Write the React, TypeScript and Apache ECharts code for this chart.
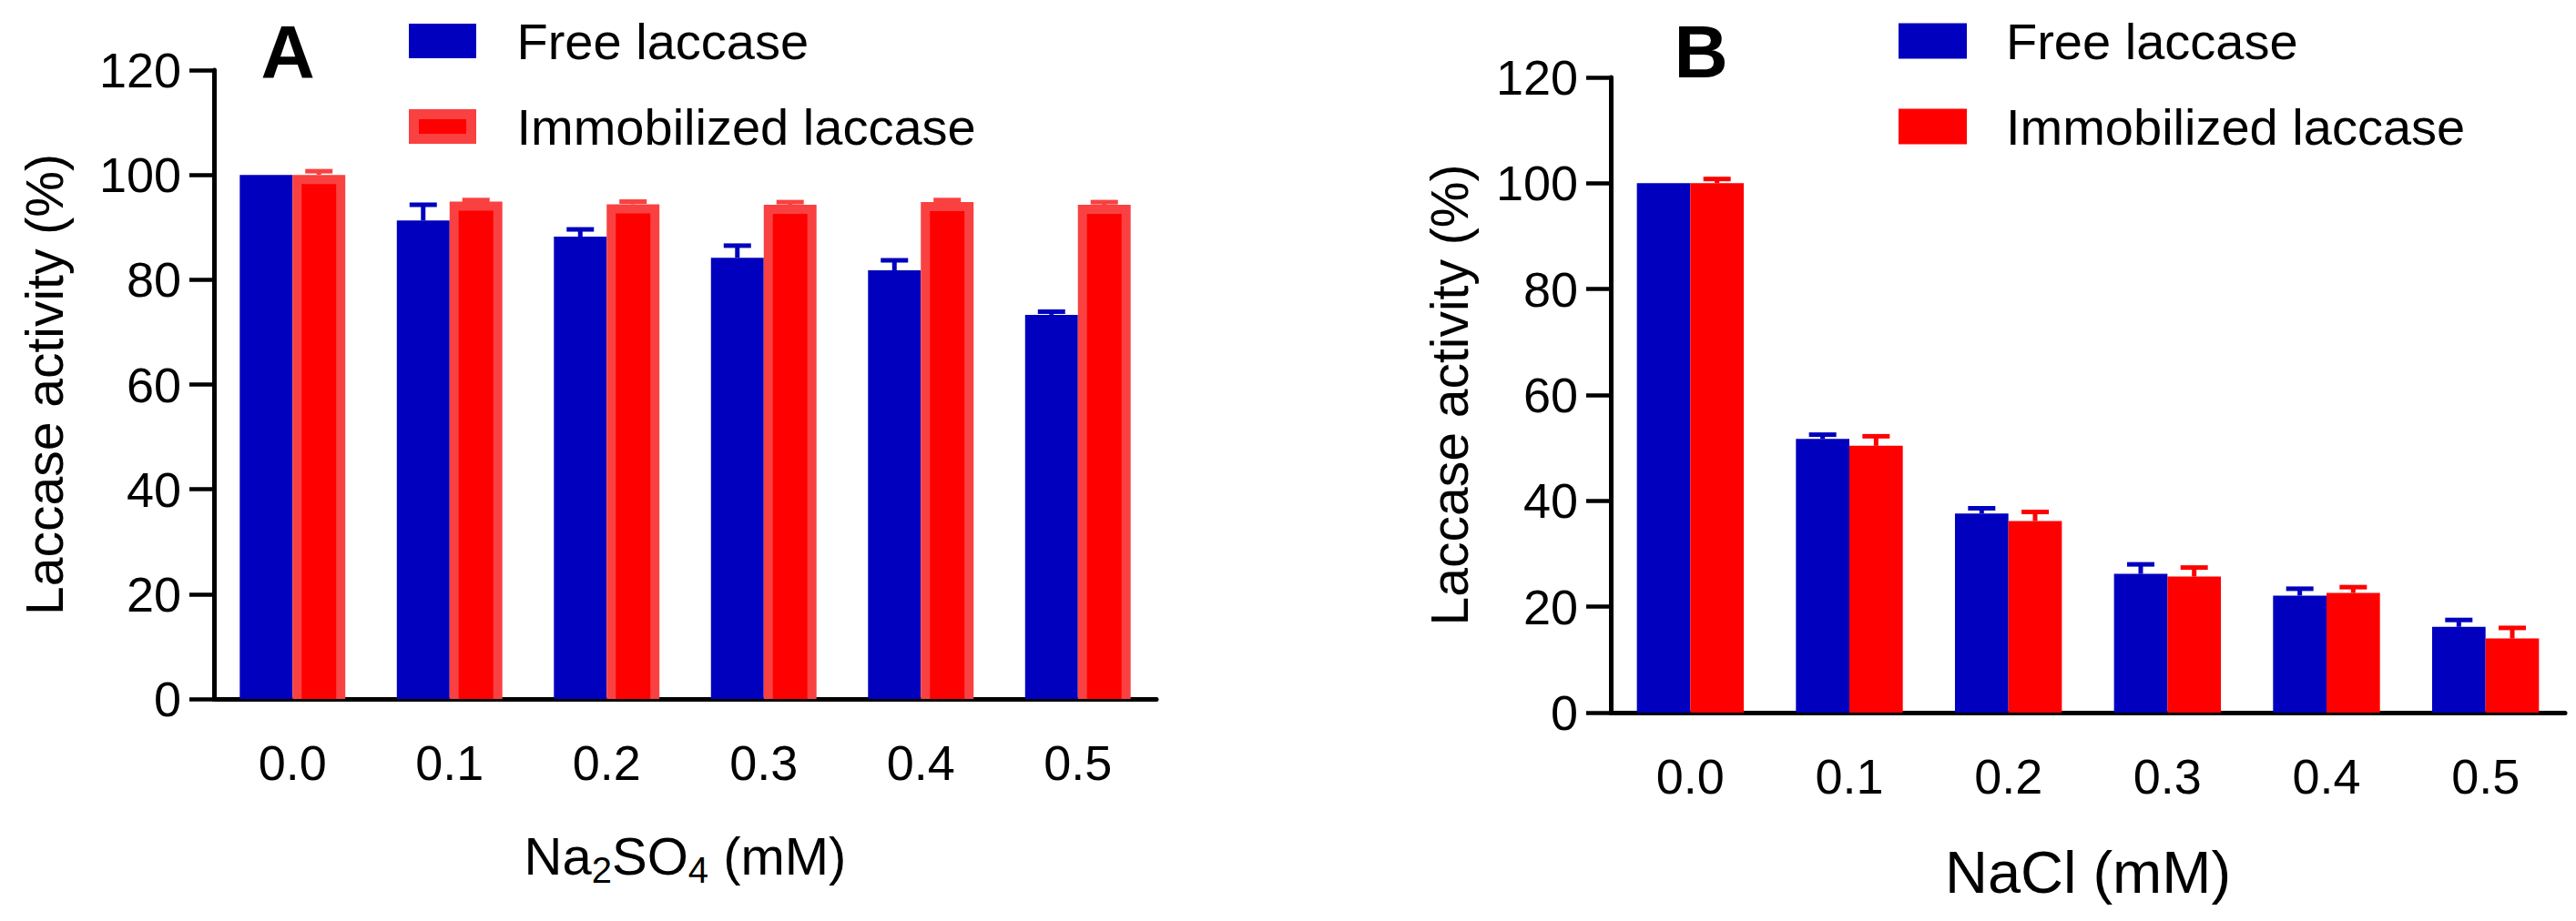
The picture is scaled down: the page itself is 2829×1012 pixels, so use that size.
import React, { useEffect, useRef } from 'react';
import * as echarts from 'echarts';

// ---------- data ----------
const categories = ['0.0', '0.1', '0.2', '0.3', '0.4', '0.5'];
const yTicks = [0, 20, 40, 60, 80, 100, 120];
const legendNames = ['Free laccase', 'Immobilized laccase'];
const panelLetters = ['A', 'B'];
const yTitle = 'Laccase activity (%)';
const xTitleA = '{a|Na}{s|2}{a|SO}{s|4}{a| (mM)}';
const xTitleB = 'NaCl (mM)';

const freeA = [100, 91.3, 88.2, 84.2, 81.8, 73.3];
const freeErrA = [0, 3.0, 1.4, 2.3, 1.9, 0.6];
const immA = [100, 94.9, 94.4, 94.3, 94.8, 94.3];
const immErrA = [0.7, 0.3, 0.5, 0.5, 0.4, 0.5];

const freeB = [100, 51.7, 37.6, 26.2, 22.1, 16.2];
const freeErrB = [0, 0.8, 1.0, 1.8, 1.3, 1.3];
const immB = [100, 50.4, 36.2, 25.7, 22.6, 14.0];
const immErrB = [0.8, 1.8, 1.7, 1.7, 1.1, 2.0];

// ---------- style ----------
const FONT = '"Liberation Sans", Arial, Helvetica, sans-serif';
const BLUE = '#0000BE';
const RED = '#FF0000';
const LIGHT_RED = '#F94141';
const BAR_FRAC = 0.336;
const INSET = 10;

const toTriples = (v: number[], e: number[]) => v.map((val, i) => [i, val, e[i]]);

function errorRender(side: number, color: string, inner: boolean) {
  return (params: any, api: any) => {
    const i = api.value(0);
    const v = api.value(1);
    const e = api.value(2);
    const band = api.size([1, 0])[0];
    const w = band * BAR_FRAC;
    const base = api.coord([i, v]);
    const cx = base[0] + (side * w) / 2;
    const children: any[] = [];
    if (inner) {
      const zero = api.coord([i, 0]);
      const x0 = side > 0 ? base[0] : base[0] - w;
      children.push({
        type: 'rect',
        shape: { x: x0 + INSET, y: base[1] + INSET, width: w - 2 * INSET, height: zero[1] - base[1] - INSET },
        style: { fill: RED },
      });
    }
    if (e > 0) {
      const top = api.coord([i, v + e]);
      children.push({
        type: 'line',
        shape: { x1: cx, y1: base[1], x2: cx, y2: top[1] },
        style: { stroke: color, lineWidth: 5 },
      });
      children.push({
        type: 'line',
        shape: { x1: cx - 15, y1: top[1], x2: cx + 15, y2: top[1] },
        style: { stroke: color, lineWidth: 5 },
      });
    }
    return { type: 'group', children };
  };
}

function xAxis(gridIndex: number, name: string, nameSize: number) {
  return {
    type: 'category',
    gridIndex,
    data: categories,
    boundaryGap: true,
    axisLine: { lineStyle: { color: '#000', width: 5 } },
    axisTick: { alignWithLabel: true, length: 29, lineStyle: { color: '#000', width: 4.5 } },
    axisLabel: { fontSize: 54, fontFamily: FONT, color: '#000', margin: 43 },
    name,
    nameLocation: 'middle',
    nameGap: 143,
    nameTextStyle: {
      fontSize: nameSize,
      fontFamily: FONT,
      color: '#000',
      rich: {
        a: { fontSize: nameSize, fontFamily: FONT, color: '#000', lineHeight: nameSize },
        s: {
          fontSize: 40,
          fontFamily: FONT,
          color: '#000',
          lineHeight: 25,
          verticalAlign: 'top',
          padding: [25, 0, 0, 0],
        },
      },
    },
  };
}

function yAxis(gridIndex: number, nameGap: number) {
  return {
    type: 'value',
    gridIndex,
    min: yTicks[0],
    max: yTicks[yTicks.length - 1],
    interval: yTicks[1] - yTicks[0],
    splitLine: { show: false },
    axisLine: { show: true, lineStyle: { color: '#000', width: 5 } },
    axisTick: { show: true, length: 27, lineStyle: { color: '#000', width: 4.5 } },
    axisLabel: { fontSize: 54, fontFamily: FONT, color: '#000', margin: 36 },
    name: yTitle,
    nameLocation: 'middle',
    nameRotate: 90,
    nameGap,
    nameTextStyle: { fontSize: 57, fontFamily: FONT, color: '#000' },
  };
}

const nameMap: Record<string, string> = {
  'A-free': legendNames[0],
  'A-imm': legendNames[1],
  'B-free': legendNames[0],
  'B-imm': legendNames[1],
};

function letter(text: string, x: number) {
  return {
    type: 'text',
    x,
    y: 56,
    style: {
      text,
      fontSize: 82,
      fontWeight: 'bold',
      fontFamily: FONT,
      fill: '#000',
      align: 'center',
      verticalAlign: 'middle',
      textAlign: 'center',
      textVerticalAlign: 'middle',
    },
  };
}

function buildOption() {
  const bw = BAR_FRAC * 100 + '%';
  return {
    animation: false,
    backgroundColor: '#fff',
    grid: [
      { left: 235, top: 77, width: 1035, height: 691 },
      { left: 1769, top: 85, width: 1048, height: 698 },
    ],
    xAxis: [xAxis(0, xTitleA, 58), xAxis(1, xTitleB, 65)],
    yAxis: [yAxis(0, 158), yAxis(1, 149)],
    legend: [
      {
        orient: 'vertical',
        left: 449,
        top: 17,
        itemWidth: 63,
        itemHeight: 27,
        itemGap: 38,
        padding: 0,
        icon: 'rect',
        selectedMode: false,
        data: [
          { name: 'A-free', itemStyle: { color: BLUE, borderColor: BLUE, borderWidth: 11 } },
          { name: 'A-imm', itemStyle: { color: RED, borderColor: LIGHT_RED, borderWidth: 11 } },
        ],
        formatter: (n: string) => nameMap[n] || n,
        textStyle: { fontSize: 56, fontFamily: FONT, color: '#000', padding: [0, 0, 0, 45] },
      },
      {
        orient: 'vertical',
        left: 2085,
        top: 17,
        itemWidth: 75,
        itemHeight: 39,
        itemGap: 38,
        padding: 0,
        icon: 'rect',
        selectedMode: false,
        data: [
          { name: 'B-free', itemStyle: { color: BLUE, borderWidth: 0 } },
          { name: 'B-imm', itemStyle: { color: RED, borderWidth: 0 } },
        ],
        formatter: (n: string) => nameMap[n] || n,
        textStyle: { fontSize: 56, fontFamily: FONT, color: '#000', padding: [0, 0, 0, 38] },
      },
    ],
    graphic: [letter(panelLetters[0], 316), letter(panelLetters[1], 1868)],
    series: [
      {
        name: 'A-free', type: 'bar', xAxisIndex: 0, yAxisIndex: 0, data: freeA,
        barWidth: bw, barGap: '0%', itemStyle: { color: BLUE },
      },
      {
        name: 'A-imm', type: 'bar', xAxisIndex: 0, yAxisIndex: 0, data: immA,
        barWidth: bw, barGap: '0%', itemStyle: { color: LIGHT_RED },
      },
      {
        name: 'B-free', type: 'bar', xAxisIndex: 1, yAxisIndex: 1, data: freeB,
        barWidth: bw, barGap: '0%', itemStyle: { color: BLUE },
      },
      {
        name: 'B-imm', type: 'bar', xAxisIndex: 1, yAxisIndex: 1, data: immB,
        barWidth: bw, barGap: '0%', itemStyle: { color: RED },
      },
      {
        name: 'A-free-err', type: 'custom', xAxisIndex: 0, yAxisIndex: 0,
        data: toTriples(freeA, freeErrA), encode: { x: 0, y: 1 },
        renderItem: errorRender(-1, BLUE, false), z: 3,
      },
      {
        name: 'A-imm-err', type: 'custom', xAxisIndex: 0, yAxisIndex: 0,
        data: toTriples(immA, immErrA), encode: { x: 0, y: 1 },
        renderItem: errorRender(1, LIGHT_RED, true), z: 3,
      },
      {
        name: 'B-free-err', type: 'custom', xAxisIndex: 1, yAxisIndex: 1,
        data: toTriples(freeB, freeErrB), encode: { x: 0, y: 1 },
        renderItem: errorRender(-1, BLUE, false), z: 3,
      },
      {
        name: 'B-imm-err', type: 'custom', xAxisIndex: 1, yAxisIndex: 1,
        data: toTriples(immB, immErrB), encode: { x: 0, y: 1 },
        renderItem: errorRender(1, RED, false), z: 3,
      },
    ],
  };
}

export default function App() {
  const ref = useRef<HTMLDivElement>(null);
  useEffect(() => {
    if (!ref.current) return;
    const chart = echarts.init(ref.current, undefined, { renderer: 'svg' });
    chart.setOption(buildOption() as any);
    return () => chart.dispose();
  }, []);
  return (
    <div
      ref={ref}
      style={{ position: 'fixed', left: 0, top: 0, width: 2829, height: 1012, background: '#fff' }}
    />
  );
}
